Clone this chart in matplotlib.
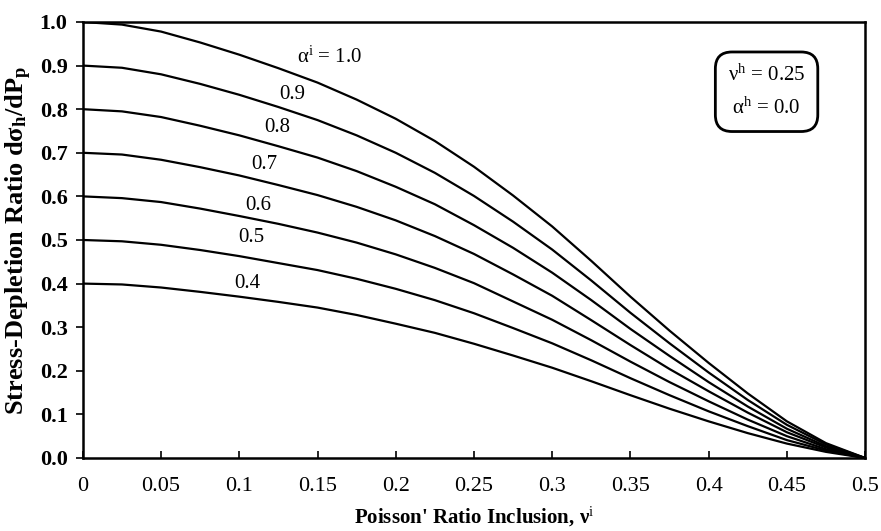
import matplotlib.pyplot as plt
import numpy as np

plt.rcParams['font.family'] = ['Liberation Serif', 'DejaVu Serif']
plt.rcParams['mathtext.fontset'] = 'custom'
plt.rcParams['mathtext.rm'] = 'Liberation Serif'
plt.rcParams['mathtext.it'] = 'Liberation Serif:italic'
plt.rcParams['mathtext.bf'] = 'Liberation Serif:bold'

# Poisson ratio of inclusion (x axis)
nu_i = [0.0, 0.025, 0.05, 0.075, 0.1, 0.125, 0.15, 0.175, 0.2, 0.225, 0.25,
        0.275, 0.3, 0.325, 0.35, 0.375, 0.4, 0.425, 0.45, 0.475, 0.5]

# stress-depletion ratio, one list per alpha_i
ratio_10 = [1.000, 0.994, 0.978, 0.953, 0.925, 0.894, 0.861, 0.822, 0.778, 0.727, 0.668,
            0.602, 0.531, 0.452, 0.370, 0.292, 0.218, 0.148, 0.084, 0.034, 0.000]
ratio_09 = [0.900, 0.895, 0.880, 0.858, 0.833, 0.805, 0.775, 0.740, 0.700, 0.654, 0.601,
            0.542, 0.478, 0.407, 0.333, 0.263, 0.196, 0.133, 0.076, 0.031, 0.000]
ratio_08 = [0.800, 0.795, 0.782, 0.762, 0.740, 0.715, 0.689, 0.658, 0.622, 0.582, 0.534,
            0.482, 0.425, 0.362, 0.296, 0.234, 0.174, 0.118, 0.067, 0.027, 0.000]
ratio_07 = [0.700, 0.696, 0.684, 0.667, 0.648, 0.626, 0.603, 0.576, 0.545, 0.509, 0.468,
            0.421, 0.372, 0.316, 0.259, 0.204, 0.153, 0.104, 0.059, 0.024, 0.000]
ratio_06 = [0.600, 0.596, 0.587, 0.572, 0.555, 0.537, 0.517, 0.494, 0.467, 0.436, 0.401,
            0.359, 0.317, 0.270, 0.221, 0.174, 0.130, 0.088, 0.050, 0.020, 0.000]
ratio_05 = [0.500, 0.497, 0.489, 0.477, 0.463, 0.447, 0.431, 0.411, 0.388, 0.362, 0.332,
            0.298, 0.263, 0.224, 0.183, 0.144, 0.107, 0.073, 0.041, 0.017, 0.000]
ratio_04 = [0.400, 0.398, 0.391, 0.381, 0.370, 0.358, 0.345, 0.328, 0.308, 0.287, 0.262,
            0.235, 0.207, 0.176, 0.144, 0.113, 0.084, 0.057, 0.033, 0.014, 0.000]

curves = [ratio_10, ratio_09, ratio_08, ratio_07, ratio_06, ratio_05, ratio_04]
curve_labels = ['α$^{\\mathrm{i}}$ = 1.0', '0.9', '0.8', '0.7', '0.6', '0.5', '0.4']
label_x = [0.158, 0.134, 0.124, 0.116, 0.112, 0.108, 0.105]
label_y = [0.92, 0.833, 0.757, 0.672, 0.580, 0.505, 0.401]

xticks = [0, 0.05, 0.1, 0.15, 0.2, 0.25, 0.3, 0.35, 0.4, 0.45, 0.5]
xtick_labels = ['0', '0.05', '0.1', '0.15', '0.2', '0.25', '0.3', '0.35', '0.4', '0.45', '0.5']
yticks = np.arange(0, 1.01, 0.1)

fig = plt.figure(figsize=(8.81, 5.31), dpi=100)
ax = fig.add_axes([0.094, 0.1375, 0.888, 0.8211])

for ys in curves:
    ax.plot(nu_i, ys, color='black', linewidth=1.6)

for txt, lx, ly in zip(curve_labels, label_x, label_y):
    ax.text(lx, ly, txt, fontsize=15, ha='center', va='center')

ax.text(0.437, 0.84, 'ν$^{\\mathrm{h}}$ = 0.25' + '\n' + 'α$^{\\mathrm{h}}$ = 0.0',
        fontsize=15, ha='center', va='center', linespacing=1.75,
        bbox=dict(boxstyle='round,pad=0.6,rounding_size=0.8', facecolor='white',
                  edgecolor='black', linewidth=2.0))

ax.set_xlim(0, 0.5)
ax.set_ylim(0, 1.0)
ax.set_xticks(xticks)
ax.set_xticklabels(xtick_labels)
ax.set_yticks(yticks)
ax.set_yticklabels([f'{v:.1f}' for v in yticks], fontweight='bold')
ax.tick_params(axis='x', direction='in', length=5, width=1.2, labelsize=16, pad=14)
ax.tick_params(axis='y', direction='out', length=5, width=1.2, labelsize=16, pad=6)
for s in ax.spines.values():
    s.set_linewidth(1.8)

ax.set_xlabel('Poisson\' Ratio Inclusion, ν$^{\\mathrm{i}}$', fontsize=15,
              fontweight='bold', labelpad=6)
ax.set_ylabel('Stress-Depletion Ratio dσ$_{\\mathbf{h}}$/dP$_{\\mathbf{p}}$',
              fontsize=19, fontweight='bold', labelpad=4)

fig.savefig('out.png', dpi=100)
